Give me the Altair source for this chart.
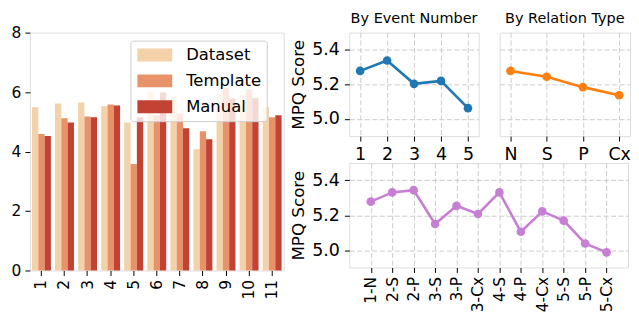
import altair as alt
import pandas as pd

FONT = "DejaVu Sans"

# ---- left bar chart data ----
groups = [str(i) for i in range(1, 12)]
series = ["Dataset", "Template", "Manual"]
dataset_vals = [5.49, 5.62, 5.65, 5.52, 4.98, 6.02, 5.84, 4.08, 5.93, 5.90, 5.49]
template_vals = [4.59, 5.12, 5.18, 5.58, 3.58, 5.22, 5.28, 4.68, 6.14, 6.09, 5.15]
manual_vals = [4.52, 4.98, 5.15, 5.55, 5.15, 5.99, 4.78, 4.41, 5.78, 5.79, 5.22]
bar_colors = ["#f3d1a9", "#e8926a", "#c24234"]

# ---- line chart data ----
event_labels = ["1", "2", "3", "4", "5"]
event_vals = [5.278, 5.338, 5.203, 5.220, 5.062]
rel_labels = ["N", "S", "P", "Cx"]
rel_vals = [5.278, 5.244, 5.184, 5.137]
combo_labels = ["1-N", "2-S", "2-P", "3-S", "3-P", "3-Cx", "4-S", "4-P", "4-Cx", "5-S", "5-P", "5-Cx"]
combo_vals = [5.278, 5.331, 5.344, 5.150, 5.254, 5.207, 5.331, 5.105, 5.222, 5.169, 5.038, 4.987]

rows = []
for s, vals in zip(series, [dataset_vals, template_vals, manual_vals]):
    for g, v in zip(groups, vals):
        rows.append({"group": g, "series": s, "value": v})
bar_df = pd.DataFrame(rows)

title_cfg = dict(fontSize=14.5, font=FONT, fontWeight="normal", offset=6, color="black")

bar = alt.Chart(bar_df).mark_bar().encode(
    x=alt.X("group:N", sort=groups, title=None,
            scale=alt.Scale(paddingInner=0.18, paddingOuter=0.09),
            axis=alt.Axis(labelAngle=-90, labelFontSize=15.5, tickSize=5, labelPadding=4,
                          domain=False, grid=False, tickColor="black", labelColor="black")),
    xOffset=alt.XOffset("series:N", sort=series),
    y=alt.Y("value:Q", title=None, scale=alt.Scale(domain=[0, 8]),
            axis=alt.Axis(values=[0, 2, 4, 6, 8], labelFontSize=15.5, tickSize=5, labelPadding=4,
                          domain=False, grid=False, tickColor="black", labelColor="black")),
    color=alt.Color("series:N", sort=series,
                    scale=alt.Scale(domain=series, range=bar_colors),
                    legend=alt.Legend(title=None, orient="none", legendX=101, legendY=8,
                                      symbolType="M-1,-0.37H1V0.37H-1Z", symbolSize=1225,
                                      symbolStrokeWidth=0, symbolOpacity=1, symbolOffset=2,
                                      clipHeight=19, rowPadding=7, padding=5,
                                      labelFontSize=16.5, labelFont=FONT, labelColor="black",
                                      labelOffset=14,
                                      fillColor="rgba(255,255,255,0.8)", strokeColor="#cccccc",
                                      cornerRadius=3)),
).properties(width=255, height=239, title=alt.TitleParams(" ", **title_cfg))

grid_kw = dict(grid=True, gridColor="#cccccc", gridDash=[5, 2.5], gridWidth=1)


def line_panel(labels, vals, color, pad, show_y, title=None, rotate=False, w=130, h=104):
    df = pd.DataFrame({"label": labels, "score": vals})
    x_axis = alt.Axis(labelAngle=-90 if rotate else 0, labelFontSize=15.5 if rotate else 17.5,
                      tickSize=5, labelPadding=4, domain=False, tickColor="black",
                      labelColor="black", **grid_kw)
    if show_y:
        y_axis = alt.Axis(values=[5.0, 5.2, 5.4], format=".1f", labelFontSize=17.5, tickSize=5,
                          labelPadding=5, domain=False, tickColor="black", labelColor="black",
                          title="MPQ Score", titleFontSize=16.8, titleFont=FONT,
                          titleFontWeight="normal", titleColor="black", titlePadding=4,
                          **grid_kw)
    else:
        y_axis = alt.Axis(values=[5.0, 5.2, 5.4], labels=False, ticks=False, domain=False,
                          title=None, **grid_kw)
    base = alt.Chart(df).encode(
        x=alt.X("label:N", sort=labels, title=None, scale=alt.Scale(type="point", padding=pad),
                axis=x_axis),
        y=alt.Y("score:Q", scale=alt.Scale(domain=[4.9, 5.5]), axis=y_axis),
    )
    ch = alt.layer(
        base.mark_line(color=color, strokeWidth=2.6),
        base.mark_point(color=color, filled=True, size=75, opacity=1),
    ).properties(width=w, height=h)
    if title:
        ch = ch.properties(title=alt.TitleParams(title, **title_cfg))
    return ch


ev = line_panel(event_labels, event_vals, "#1f77b4", 0.4, True, "By Event Number")
rel = line_panel(rel_labels, rel_vals, "#ff7f0e", 0.3, False, "By Relation Type", w=131)
combo = line_panel(combo_labels, combo_vals, "#c67fd4", 1.1, True, rotate=True, w=280, h=105)

right = alt.vconcat(alt.hconcat(ev, rel, spacing=19), combo, spacing=-9)

chart = alt.hconcat(bar, right, spacing=5).resolve_legend(color="independent").properties(
    padding={"left": 2, "top": -5, "right": 0, "bottom": 0}
).configure_view(stroke="black", strokeWidth=1).configure_axis(
    labelFont=FONT, titleFont=FONT
).configure(font=FONT)

chart.save("out.html", embed_options={"renderer": "svg", "actions": False})
